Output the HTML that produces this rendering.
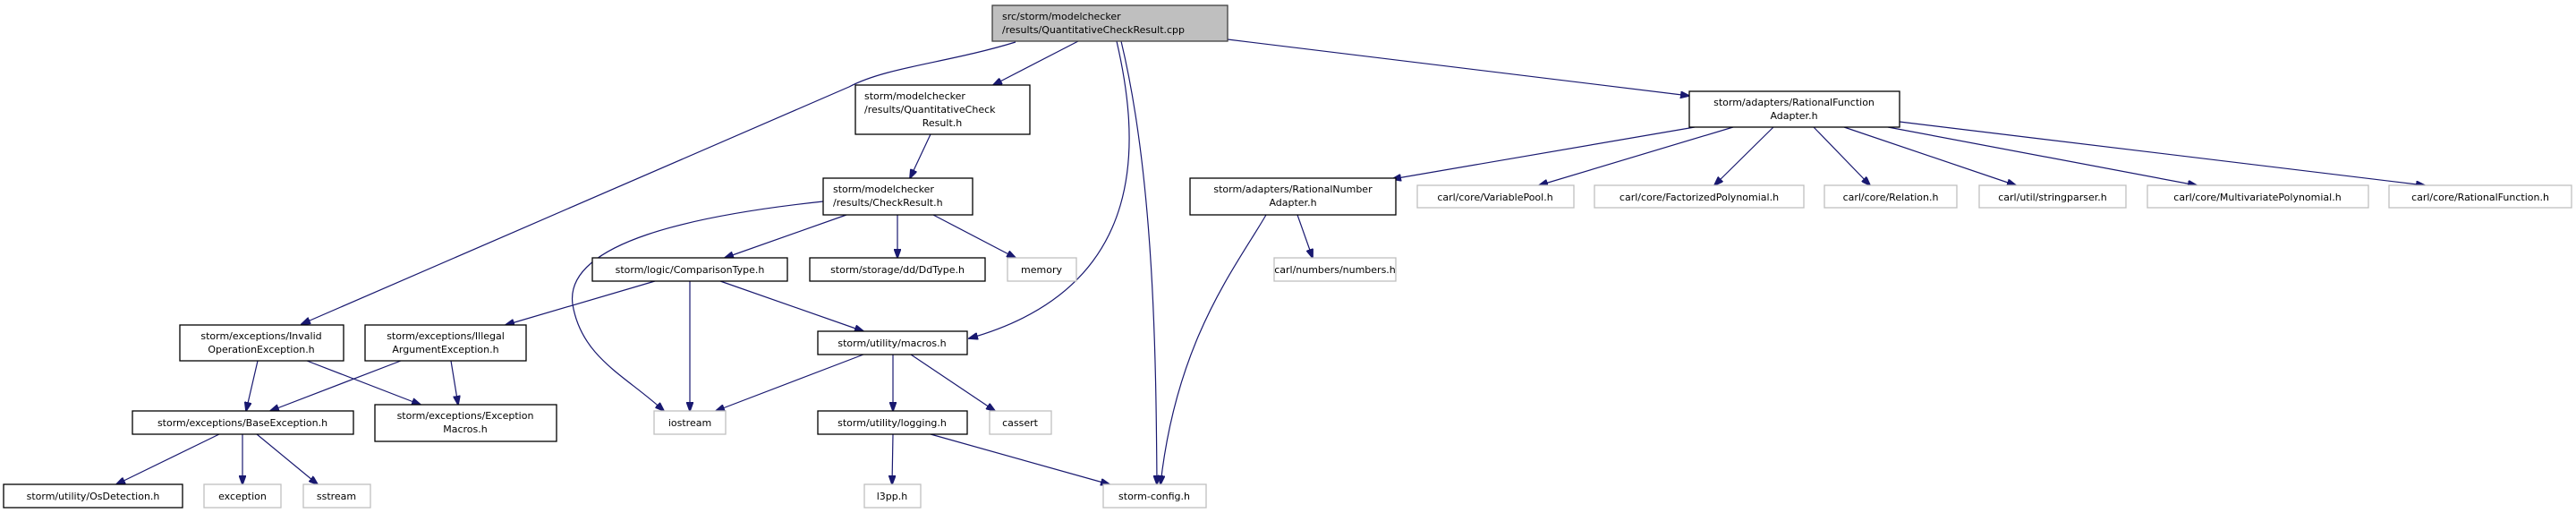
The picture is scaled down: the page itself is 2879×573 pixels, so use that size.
<!DOCTYPE html>
<html><head><meta charset="utf-8"><style>
html,body{margin:0;padding:0;background:#fff;width:2879px;height:573px;overflow:hidden}
svg text{font-family:"DejaVu Sans","Liberation Sans",sans-serif;font-size:11px;fill:#000}
</style></head><body>
<svg width="2879" height="573" viewBox="0 0 2879 573" xmlns="http://www.w3.org/2000/svg">
<defs>
<marker id="a" markerWidth="11" markerHeight="8" refX="10" refY="4" orient="auto" markerUnits="userSpaceOnUse">
<path d="M0,0 L11,4 L0,8 z" fill="#191970" stroke="#191970"/></marker>
</defs>
<g fill="none" stroke="#191970" stroke-width="1.2" marker-end="url(#a)">
<path d="M1205,46 L1110,95"/>
<path d="M1135,47 C1060,70 990,75 949,97 L337,362"/>
<path d="M1248,46 C1272,150 1290,320 1083,378"/>
<path d="M1253,46 C1290,200 1292,400 1293,541"/>
<path d="M1372,44 L1888,107"/>
<path d="M1040,150 L1017,199"/>
<path d="M946,240 L810,288"/>
<path d="M1003,240 L1003,288"/>
<path d="M1043,240 L1135,288"/>
<path d="M920,225 C780,240 630,270 640,340 C650,400 700,420 742,459"/>
<path d="M732,314 L565,363"/>
<path d="M771,314 L771,459"/>
<path d="M805,314 L965,370"/>
<path d="M288,403 L275,459"/>
<path d="M343,403 L470,452"/>
<path d="M448,403 L302,459"/>
<path d="M504,403 L512,452"/>
<path d="M965,396 L800,459"/>
<path d="M998,396 L998,459"/>
<path d="M1018,396 L1112,459"/>
<path d="M245,485 L130,541"/>
<path d="M271,485 L271,541"/>
<path d="M287,485 L355,541"/>
<path d="M998,485 L997,541"/>
<path d="M1040,485 L1240,541"/>
<path d="M1894,142 L1556,200"/>
<path d="M1937,142 L1720,207"/>
<path d="M1982,142 L1916,207"/>
<path d="M2027,142 L2090,207"/>
<path d="M2061,142 L2253,207"/>
<path d="M2110,142 L2455,207"/>
<path d="M2123,136 L2710,207"/>
<path d="M1450,240 L1467,288"/>
<path d="M1415,240 C1380,300 1315,380 1297,541"/>
</g>
<g stroke-width="1.3">
<rect x="1109" y="6" width="263" height="40" fill="#bfbfbf" stroke="#404040"/>
<g fill="#fff" stroke="#000">
<rect x="956" y="95" width="195" height="55"/>
<rect x="920" y="199" width="167" height="41"/>
<rect x="662" y="288" width="218" height="26"/>
<rect x="905" y="288" width="196" height="26"/>
<rect x="201" y="363" width="183" height="40"/>
<rect x="408" y="363" width="180" height="40"/>
<rect x="914" y="370" width="167" height="26"/>
<rect x="148" y="459" width="247" height="26"/>
<rect x="419" y="452" width="203" height="41"/>
<rect x="914" y="459" width="167" height="26"/>
<rect x="4" y="541" width="200" height="26"/>
<rect x="1888" y="102" width="235" height="40"/>
<rect x="1330" y="199" width="230" height="41"/>
</g>
<g fill="#fff" stroke="#bfbfbf">
<rect x="1126" y="288" width="77" height="26"/>
<rect x="731" y="459" width="80" height="26"/>
<rect x="1106" y="459" width="69" height="26"/>
<rect x="228" y="541" width="86" height="26"/>
<rect x="339" y="541" width="75" height="26"/>
<rect x="966" y="541" width="63" height="26"/>
<rect x="1233" y="541" width="115" height="26"/>
<rect x="1424" y="288" width="136" height="26"/>
<rect x="1584" y="207" width="175" height="25"/>
<rect x="1782" y="207" width="234" height="25"/>
<rect x="2039" y="207" width="148" height="25"/>
<rect x="2212" y="207" width="164" height="25"/>
<rect x="2400" y="207" width="247" height="25"/>
<rect x="2670" y="207" width="204" height="25"/>
</g>
</g>
<g>
<text x="1120" y="22">src/storm/modelchecker</text>
<text x="1120" y="37">/results/QuantitativeCheckResult.cpp</text>
<text x="966" y="111">storm/modelchecker</text>
<text x="966" y="126">/results/QuantitativeCheck</text>
<text x="1053" y="141" text-anchor="middle">Result.h</text>
<text x="931" y="215">storm/modelchecker</text>
<text x="931" y="230">/results/CheckResult.h</text>
<g text-anchor="middle">
<text x="771" y="305">storm/logic/ComparisonType.h</text>
<text x="1003" y="305">storm/storage/dd/DdType.h</text>
<text x="1164" y="305">memory</text>
<text x="292" y="379">storm/exceptions/Invalid</text>
<text x="292" y="394">OperationException.h</text>
<text x="498" y="379">storm/exceptions/Illegal</text>
<text x="498" y="394">ArgumentException.h</text>
<text x="997" y="387">storm/utility/macros.h</text>
<text x="271" y="476">storm/exceptions/BaseException.h</text>
<text x="520" y="468">storm/exceptions/Exception</text>
<text x="520" y="483">Macros.h</text>
<text x="771" y="476">iostream</text>
<text x="997" y="476">storm/utility/logging.h</text>
<text x="1140" y="476">cassert</text>
<text x="104" y="558">storm/utility/OsDetection.h</text>
<text x="271" y="558">exception</text>
<text x="376" y="558">sstream</text>
<text x="997" y="558">l3pp.h</text>
<text x="1290" y="558">storm-config.h</text>
<text x="2005" y="118">storm/adapters/RationalFunction</text>
<text x="2005" y="133">Adapter.h</text>
<text x="1445" y="215">storm/adapters/RationalNumber</text>
<text x="1445" y="230">Adapter.h</text>
<text x="1492" y="305">carl/numbers/numbers.h</text>
<text x="1671" y="224">carl/core/VariablePool.h</text>
<text x="1899" y="224">carl/core/FactorizedPolynomial.h</text>
<text x="2113" y="224">carl/core/Relation.h</text>
<text x="2294" y="224">carl/util/stringparser.h</text>
<text x="2523" y="224">carl/core/MultivariatePolynomial.h</text>
<text x="2772" y="224">carl/core/RationalFunction.h</text>
</g>
</g>
</svg>
</body></html>
